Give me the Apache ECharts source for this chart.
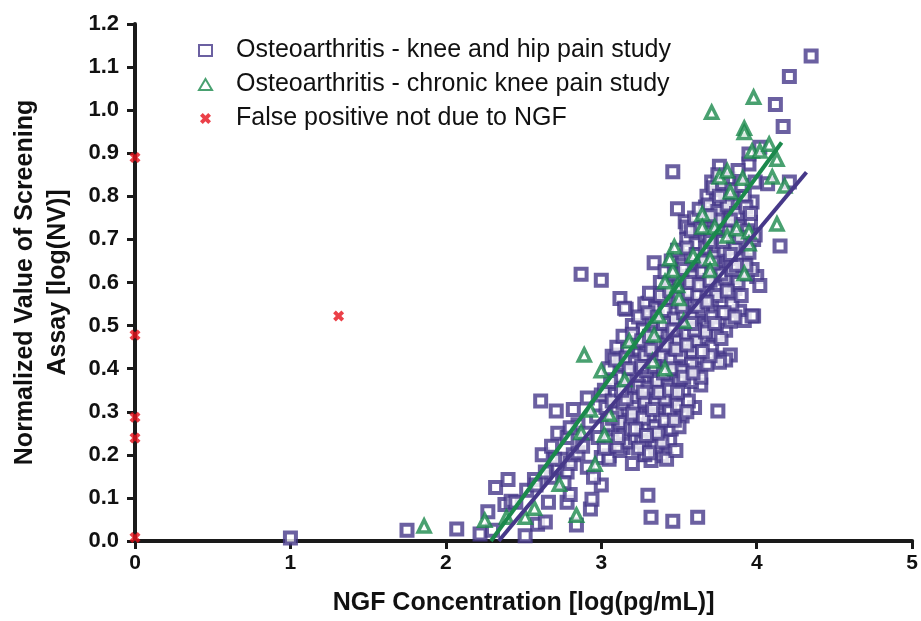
<!DOCTYPE html>
<html>
<head>
<meta charset="utf-8">
<script src="https://cdn.jsdelivr.net/npm/echarts@6/dist/echarts.min.js"></script>
<style>
  html, body { margin: 0; padding: 0; background: #fff; }
  #scatterChart { width: 921px; height: 621px; }
</style>
</head>
<body>
<div id="scatterChart"></div>
<script>
// knee and hip pain study: [log NGF, log NV]
const kneeHip = [
  [1.00, 0.007], [1.75, 0.025], [2.07, 0.028], [2.22, 0.016], [2.27, 0.068], [2.32, 0.124], [2.30, 0.025],
  [2.38, 0.085], [2.42, 0.092], [2.40, 0.143], [2.45, 0.09], [2.52, 0.118], [2.57, 0.143], [2.51, 0.012],
  [2.59, 0.039], [2.64, 0.044], [2.66, 0.09], [2.68, 0.148], [2.78, 0.09], [2.80, 0.108], [2.84, 0.037],
  [2.93, 0.074], [2.94, 0.097], [3.00, 0.13], [3.30, 0.106], [3.32, 0.055], [3.46, 0.046], [3.62, 0.055],
  [2.72, 0.17], [2.75, 0.19], [2.78, 0.16], [2.76, 0.135], [2.70, 0.19], [2.80, 0.18], [2.82, 0.20],
  [2.85, 0.205], [2.91, 0.171], [2.95, 0.148], [2.62, 0.20], [2.68, 0.22], [2.72, 0.25], [2.78, 0.24],
  [2.85, 0.27], [2.90, 0.25], [2.88, 0.22], [2.64, 0.16], [2.58, 0.13],
  [2.61, 0.325], [2.71, 0.302], [2.82, 0.305], [2.91, 0.332], [2.80, 0.263], [3.00, 0.339], [3.10, 0.27],
  [3.14, 0.217], [3.00, 0.194], [3.05, 0.198], [3.25, 0.233], [3.36, 0.212], [3.39, 0.198], [3.28, 0.201],
  [3.32, 0.187], [3.44, 0.233],
  [3.75, 0.302], [3.64, 0.362], [3.79, 0.425], [3.83, 0.432], [3.98, 0.522], [3.89, 0.533], [3.80, 0.489],
  [3.92, 0.512], [3.80, 0.42], [3.76, 0.415],
  [2.87, 0.619], [3.00, 0.605], [3.12, 0.563], [3.16, 0.538], [3.34, 0.646], [3.32, 0.547], [3.07, 0.429],
  [3.12, 0.432], [3.15, 0.54], [3.30, 0.552],
  [4.35, 1.126], [4.21, 1.078], [4.12, 1.013], [4.17, 0.962], [3.46, 0.857], [3.76, 0.870], [3.95, 0.875],
  [3.95, 0.898], [4.02, 0.914], [3.71, 0.833], [3.99, 0.833], [4.07, 0.829], [4.21, 0.833], [3.49, 0.771],
  [3.67, 0.775], [3.97, 0.787], [3.54, 0.741], [3.55, 0.729], [4.15, 0.685], [4.00, 0.614], [4.02, 0.593],
  [3.98, 0.70], [3.92, 0.651], [3.86, 0.586], [3.84, 0.57], [3.97, 0.522],
  [3.05, 0.19], [3.12, 0.21], [3.20, 0.18], [3.28, 0.20], [3.35, 0.22], [3.42, 0.19], [3.17, 0.23], [3.48, 0.21],
  [2.98, 0.24], [3.08, 0.26], [3.14, 0.25], [3.22, 0.24], [3.30, 0.27], [3.38, 0.25], [3.45, 0.26], [3.26, 0.23],
  [2.97, 0.29], [3.03, 0.31], [3.10, 0.30], [3.18, 0.28], [3.24, 0.32], [3.31, 0.29], [3.37, 0.31], [3.44, 0.30],
  [3.52, 0.29], [3.60, 0.31],
  [3.02, 0.35], [3.09, 0.34], [3.15, 0.36], [3.21, 0.33], [3.27, 0.37], [3.33, 0.34], [3.39, 0.36], [3.46, 0.33],
  [3.53, 0.35], [3.58, 0.37], [3.12, 0.38],
  [3.05, 0.40], [3.13, 0.41], [3.19, 0.39], [3.25, 0.42], [3.31, 0.40], [3.36, 0.38], [3.42, 0.41], [3.48, 0.39],
  [3.55, 0.42], [3.62, 0.40], [3.68, 0.41],
  [3.10, 0.45], [3.17, 0.44], [3.23, 0.46], [3.29, 0.44], [3.34, 0.47], [3.40, 0.45], [3.46, 0.43], [3.52, 0.46],
  [3.58, 0.44], [3.65, 0.47], [3.71, 0.45],
  [3.20, 0.50], [3.27, 0.49], [3.33, 0.51], [3.38, 0.48], [3.44, 0.50], [3.50, 0.52], [3.56, 0.49], [3.62, 0.51],
  [3.68, 0.50], [3.74, 0.48], [3.83, 0.51],
  [3.28, 0.55], [3.35, 0.54], [3.41, 0.56], [3.47, 0.53], [3.53, 0.57], [3.59, 0.55], [3.65, 0.54], [3.71, 0.56],
  [3.77, 0.53], [3.84, 0.55],
  [3.38, 0.60], [3.44, 0.59], [3.50, 0.61], [3.56, 0.58], [3.62, 0.62], [3.68, 0.60], [3.74, 0.59], [3.80, 0.61],
  [3.88, 0.60], [3.94, 0.62],
  [3.45, 0.65], [3.52, 0.64], [3.58, 0.66], [3.64, 0.63], [3.70, 0.67], [3.76, 0.65], [3.82, 0.64], [3.90, 0.66],
  [3.97, 0.63],
  [3.55, 0.70], [3.61, 0.69], [3.67, 0.71], [3.73, 0.68], [3.79, 0.72], [3.85, 0.70], [3.91, 0.69], [3.99, 0.71],
  [3.60, 0.75], [3.66, 0.74], [3.72, 0.76], [3.78, 0.73], [3.84, 0.77], [3.90, 0.75], [3.96, 0.74],
  [3.68, 0.80], [3.74, 0.79], [3.80, 0.81], [3.86, 0.78], [3.92, 0.80],
  [3.75, 0.85], [3.82, 0.84], [3.88, 0.86],
  [3.02, 0.215], [3.10, 0.22], [3.24, 0.215], [3.31, 0.205], [3.39, 0.23],
  [3.04, 0.27], [3.12, 0.275], [3.19, 0.26], [3.34, 0.265], [3.41, 0.28], [3.50, 0.265],
  [3.07, 0.325], [3.14, 0.32], [3.21, 0.31], [3.28, 0.325], [3.35, 0.32], [3.41, 0.33], [3.49, 0.315], [3.56, 0.325],
  [3.06, 0.37], [3.18, 0.375], [3.24, 0.36], [3.30, 0.355], [3.36, 0.37], [3.43, 0.36], [3.50, 0.375], [3.64, 0.38],
  [3.09, 0.42], [3.16, 0.425], [3.22, 0.415], [3.28, 0.43], [3.34, 0.42], [3.39, 0.43], [3.45, 0.42], [3.51, 0.43],
  [3.58, 0.41], [3.70, 0.43],
  [3.14, 0.475], [3.20, 0.48], [3.26, 0.465], [3.31, 0.475], [3.37, 0.46], [3.43, 0.475], [3.49, 0.465], [3.55, 0.48],
  [3.61, 0.465], [3.67, 0.485], [3.77, 0.47],
  [3.24, 0.52], [3.30, 0.53], [3.36, 0.52], [3.41, 0.535], [3.47, 0.515], [3.53, 0.53], [3.59, 0.52], [3.65, 0.535],
  [3.71, 0.52], [3.79, 0.53],
  [3.31, 0.575], [3.38, 0.57], [3.44, 0.58], [3.50, 0.565], [3.56, 0.575], [3.62, 0.57], [3.68, 0.58], [3.74, 0.57],
  [3.81, 0.58], [3.90, 0.57],
  [3.41, 0.625], [3.47, 0.62], [3.53, 0.63], [3.59, 0.615], [3.65, 0.625], [3.71, 0.635], [3.77, 0.62], [3.84, 0.63],
  [3.93, 0.64],
  [3.49, 0.675], [3.55, 0.68], [3.61, 0.665], [3.67, 0.68], [3.73, 0.66], [3.79, 0.675], [3.86, 0.68], [3.95, 0.67],
  [3.58, 0.72], [3.64, 0.725], [3.70, 0.715], [3.76, 0.73], [3.82, 0.72], [3.88, 0.73], [3.94, 0.72],
  [3.63, 0.77], [3.69, 0.78], [3.75, 0.765], [3.81, 0.78], [3.87, 0.76], [3.93, 0.775],
  [3.72, 0.82], [3.78, 0.83], [3.84, 0.815], [3.90, 0.825],
  [3.23, 0.385], [3.29, 0.395], [3.34, 0.405], [3.40, 0.39], [3.46, 0.40], [3.52, 0.395], [3.27, 0.345],
  [3.37, 0.345], [3.44, 0.35], [3.49, 0.345], [3.32, 0.445], [3.42, 0.455], [3.48, 0.445], [3.55, 0.455],
  [3.60, 0.49], [3.40, 0.505], [3.46, 0.49], [3.58, 0.505], [3.52, 0.545], [3.62, 0.545], [3.68, 0.555],
  [3.57, 0.60], [3.63, 0.595], [3.70, 0.605], [3.66, 0.65], [3.72, 0.645], [3.78, 0.695], [3.70, 0.695],
  [3.83, 0.745], [3.75, 0.745], [3.20, 0.295], [3.27, 0.285], [3.33, 0.305], [3.16, 0.33], [3.13, 0.35],
  [3.18, 0.40], [3.26, 0.405], [3.36, 0.25], [3.22, 0.26], [3.29, 0.245], [3.11, 0.24], [3.07, 0.285],
  [3.47, 0.28], [3.55, 0.30], [3.53, 0.38], [3.59, 0.39], [3.65, 0.44], [3.73, 0.505], [3.86, 0.52],
  [3.87, 0.64], [3.83, 0.665], [3.89, 0.705], [3.76, 0.80], [3.96, 0.76], [3.70, 0.755]
]

// chronic knee pain study
const chronicKnee = [
  [1.86, 0.035], [2.25, 0.048], [2.39, 0.055], [2.51, 0.055], [2.57, 0.076], [2.73, 0.132], [2.84, 0.06],
  [2.96, 0.178], [3.02, 0.246], [2.87, 0.252], [2.93, 0.304], [3.05, 0.294], [3.00, 0.395], [2.89, 0.432],
  [3.15, 0.374], [3.18, 0.464], [3.33, 0.418], [3.41, 0.40], [3.34, 0.478], [3.37, 0.522], [3.53, 0.51],
  [3.50, 0.563], [3.49, 0.593], [3.41, 0.602], [3.46, 0.628], [3.44, 0.655], [3.47, 0.683], [3.59, 0.662],
  [3.70, 0.655], [3.70, 0.628], [3.92, 0.621], [3.65, 0.759], [3.65, 0.729], [3.73, 0.729], [3.81, 0.708],
  [3.87, 0.725], [3.95, 0.718], [3.95, 0.69], [4.13, 0.736],
  [3.83, 0.81], [3.76, 0.845], [3.81, 0.859], [3.91, 0.842], [4.10, 0.845], [4.18, 0.824], [4.13, 0.886],
  [3.97, 0.905], [4.02, 0.905], [4.08, 0.921],
  [3.98, 1.03], [3.71, 0.995], [3.92, 0.958], [3.92, 0.948]
]

// false positives
const falsePositive = [[0, 0.89], [0, 0.478], [0, 0.287], [0, 0.239], [0, 0.008], [1.31, 0.522]]

// regression line end points
const kneeHipFit = [[2.34, 0], [4.32, 0.856]]
const chronicKneeFit = [[2.29, 0], [4.16, 0.925]]

const seriesNames = [
  'Osteoarthritis - knee and hip pain study',
  'Osteoarthritis - chronic knee pain study',
  'False positive not due to NGF'
]

const PURPLE = '#463889'
const GREEN = '#1b894c'
const RED = '#e6101a'
const AXIS = '#1a1a1a'
const crossPath = 'path://M0,2.5 L2.5,0 L5,2.5 L7.5,0 L10,2.5 L7.5,5 L10,7.5 L7.5,10 L5,7.5 L2.5,10 L0,7.5 L2.5,5 Z'

const chart = echarts.init(document.getElementById('scatterChart'))
chart.setOption({
  animation: false,
  backgroundColor: '#fff',
  textStyle: { fontFamily: 'Liberation Sans, Arial, sans-serif' },
  grid: {
    left: 135,
    right: 4,
    top: 24,
    bottom: 77
  },
  legend: {
    data: seriesNames,
    orient: 'vertical',
    left: 193,
    top: 33,
    itemGap: 9,
    itemWidth: 13,
    itemHeight: 11,
    textStyle: {
      fontSize: 25,
      color: '#111',
      padding: [0, 0, 0, 19]
    }
  },
  xAxis: {
    type: 'value',
    min: 0,
    max: 5,
    interval: 1,
    name: 'NGF Concentration [log(pg/mL)]',
    nameLocation: 'middle',
    nameGap: 50,
    nameTextStyle: { fontSize: 25, fontWeight: 'bold', color: '#111' },
    axisLine: { onZero: false, lineStyle: { color: AXIS, width: 4 } },
    axisTick: { show: true, length: 8, lineStyle: { color: AXIS, width: 3 } },
    axisLabel: { fontSize: 21, fontWeight: 'bold', color: '#111', margin: 12 },
    splitLine: { show: false }
  },
  yAxis: {
    type: 'value',
    min: 0,
    max: 1.2,
    interval: 0.1,
    name: 'Normalized Value of Screening\nAssay [log(NV)]',
    nameLocation: 'middle',
    nameGap: 60,
    nameTextStyle: { fontSize: 25, fontWeight: 'bold', color: '#111', lineHeight: 33 },
    axisLine: { show: true, onZero: false, lineStyle: { color: AXIS, width: 4 } },
    axisTick: { show: true, length: 8, lineStyle: { color: AXIS, width: 3 } },
    axisLabel: {
      fontSize: 22,
      fontWeight: 'bold',
      color: '#111',
      margin: 16,
      formatter: v => v.toFixed(1)
    },
    splitLine: { show: false }
  },
  series: [
    {
      name: seriesNames[0],
      type: 'scatter',
      data: kneeHip,
      symbol: 'rect',
      symbolSize: 11,
      itemStyle: { color: '#fff', borderColor: PURPLE, borderWidth: 4 }
    },
    {
      name: 'kneeHipFit',
      type: 'line',
      data: kneeHipFit,
      showSymbol: false,
      silent: true,
      lineStyle: { color: PURPLE, width: 4 }
    },
    {
      name: 'chronicKneeFit',
      type: 'line',
      data: chronicKneeFit,
      showSymbol: false,
      silent: true,
      lineStyle: { color: GREEN, width: 4 }
    },
    {
      name: seriesNames[1],
      type: 'scatter',
      data: chronicKnee,
      symbol: 'triangle',
      symbolSize: 12,
      itemStyle: { color: '#fff', borderColor: GREEN, borderWidth: 3.5 }
    },
    {
      name: seriesNames[2],
      type: 'scatter',
      data: falsePositive,
      symbol: crossPath,
      symbolSize: 11,
      itemStyle: { color: RED }
    }
  ]
})
</script>
</body>
</html>
